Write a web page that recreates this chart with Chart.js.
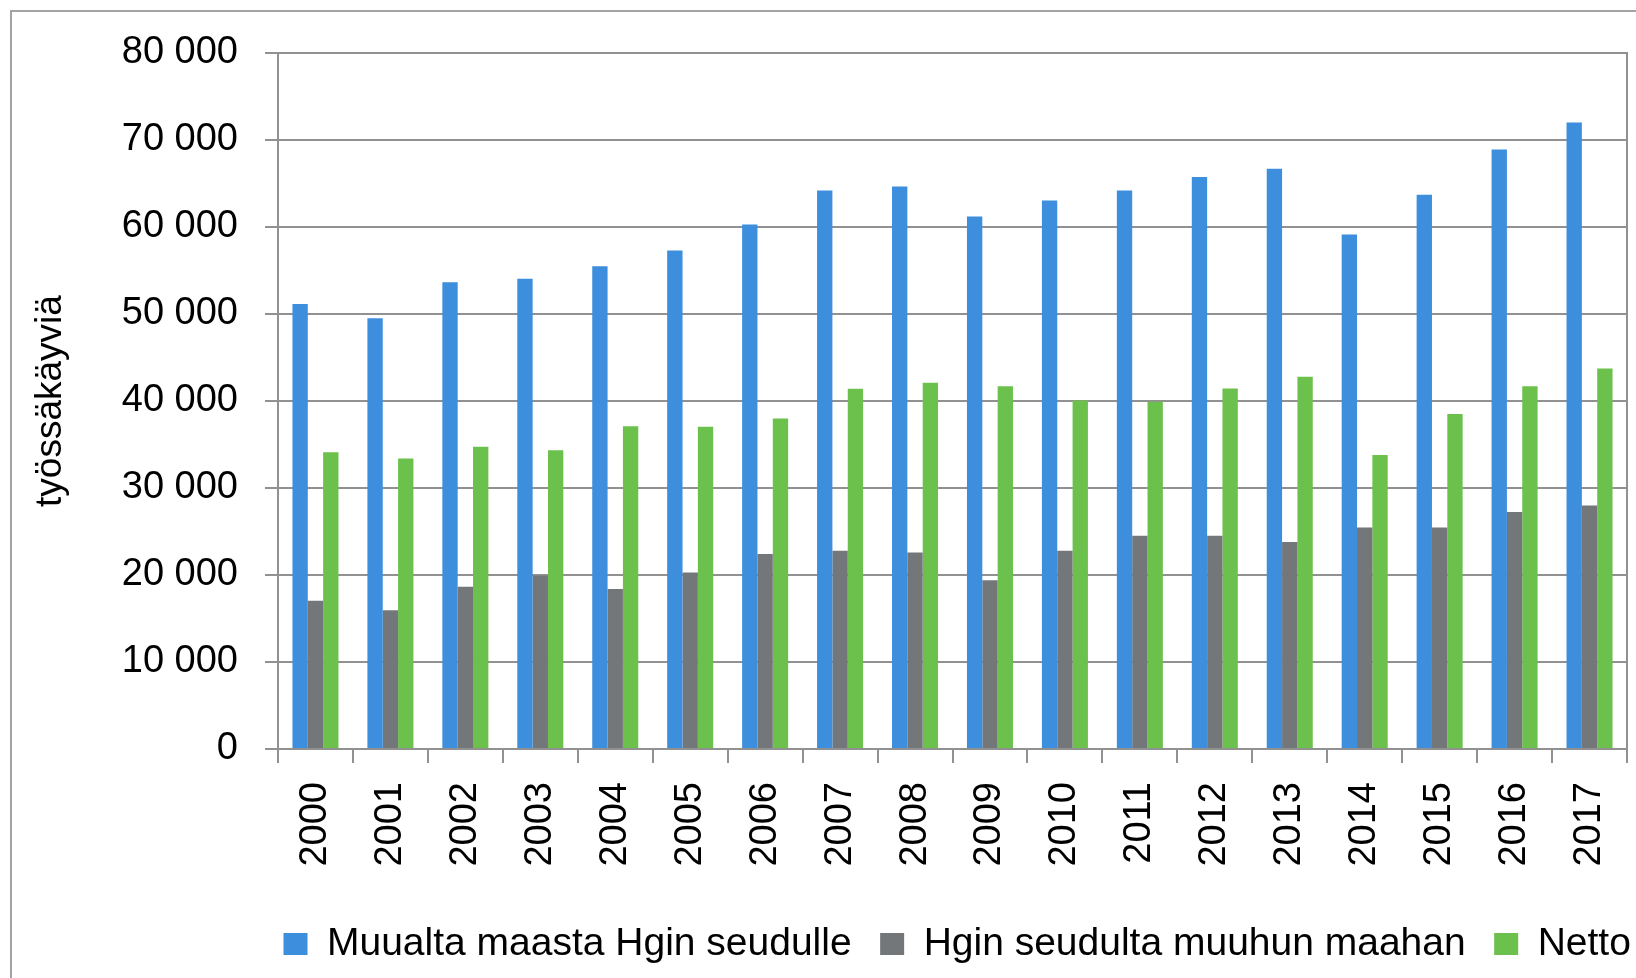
<!DOCTYPE html>
<html>
<head>
<meta charset="utf-8">
<title>Työssäkäynti</title>
<script src="https://cdn.jsdelivr.net/npm/chart.js@4.4.1/dist/chart.umd.min.js"></script>
<style>
  html, body { margin: 0; padding: 0; background: #fff; overflow: hidden; }
  #wrap { position: relative; width: 1636px; height: 978px; }
  #myChart { position: absolute; left: 0; top: 0; }
  #frame {
    position: absolute; left: 10px; top: 10px; width: 1800px; height: 1100px;
    border-left: 2px solid #a3a3a3; border-top: 2px solid #a3a3a3;
    pointer-events: none;
  }
</style>
</head>
<body onload="handleOnLoad()">
<div id="wrap">
  <canvas id="myChart" width="1636" height="978"></canvas>
  <div id="frame"></div>
</div>
<script>
const years = ['2000', '2001', '2002', '2003', '2004', '2005', '2006', '2007', '2008',
  '2009', '2010', '2011', '2012', '2013', '2014', '2015', '2016', '2017']

const seriesNames = ['Muualta maasta Hgin seudulle', 'Hgin seudulta muuhun maahan', 'Netto']

// työssäkäyviä per vuosi, luettu kuvasta
const toHelsinki = [51150, 49500, 53650, 54050, 55500, 57300, 60300, 64200, 64650,
  61200, 63050, 64200, 65750, 66700, 59150, 63700, 68900, 72000]
const fromHelsinki = [17050, 15950, 18650, 19950, 18400, 20300, 22400, 22800, 22600,
  19400, 22800, 24500, 24500, 23800, 25450, 25450, 27250, 28000]
const netto = [34100, 33400, 34750, 34350, 37100, 37050, 38000, 41400, 42100,
  41700, 40050, 39900, 41450, 42800, 33800, 38500, 41700, 43750]

const yTicks = [0, 10000, 20000, 30000, 40000, 50000, 60000, 70000, 80000]

const axisColor = '#919191'
const sans = "'Liberation Sans', Arial, sans-serif"

function formatThousands(v) {
  return String(v).replace(/\B(?=(\d{3})+(?!\d))/g, ' ')
}

// legend starts where the original one does, not centred
const legendStart = {
  id: 'legendStart',
  afterUpdate(chart) {
    const lg = chart.legend
    const dx = 283.5 - (lg.left + lg.options.labels.padding)
    lg.left += dx
    lg.right += dx
    lg.adjustHitBoxes()
  }
}

function handleOnLoad() {
  CreateChart()
}

function CreateChart() {
  const ctx = document.getElementById('myChart').getContext('2d')
  const myChart = new Chart(ctx, {
    type: 'bar',
    data: {
      labels: years,
      datasets: [
        { label: seriesNames[0], data: toHelsinki, backgroundColor: '#3d8edd' },
        { label: seriesNames[1], data: fromHelsinki, backgroundColor: '#74777a' },
        { label: seriesNames[2], data: netto, backgroundColor: '#6bc14b' }
      ]
    },
    plugins: [legendStart],
    options: {
      responsive: false,
      animation: false,
      devicePixelRatio: 1,
      layout: {
        padding: { left: 0, right: 9, top: 53, bottom: 4.5 }
      },
      datasets: {
        bar: { categoryPercentage: 0.614, barPercentage: 1.0, borderWidth: 0 }
      },
      plugins: {
        legend: {
          position: 'bottom',
          align: 'start',
          labels: {
            color: '#000',
            font: { family: sans, size: 39 },
            boxWidth: 24,
            boxHeight: 22,
            padding: 28.5
          }
        },
        tooltip: { enabled: false }
      },
      scales: {
        x: {
          grid: {
            drawOnChartArea: false,
            drawTicks: true,
            tickLength: 14,
            color: axisColor,
            lineWidth: 2
          },
          border: { color: axisColor, width: 2 },
          ticks: {
            color: '#000',
            font: { family: sans, size: 38 },
            minRotation: 90,
            maxRotation: 90,
            padding: 19,
            autoSkip: false
          },
          afterFit(scale) {
            scale.height = 147
            scale.paddingLeft = 0
            scale.paddingRight = 0
          }
        },
        y: {
          min: 0,
          max: 80000,
          afterBuildTicks(scale) {
            scale.ticks = yTicks.map(v => ({ value: v }))
          },
          grid: {
            color: axisColor,
            lineWidth: 2,
            tickLength: 13
          },
          border: { color: axisColor, width: 2 },
          ticks: {
            color: '#000',
            font: { family: sans, size: 38 },
            padding: 27,
            callback: v => formatThousands(v)
          },
          title: {
            display: true,
            text: 'työssäkäyviä',
            color: '#000',
            font: { family: sans, size: 37 },
            padding: { top: 29, bottom: 0 }
          },
          afterFit(scale) { scale.width = 278 }
        },
        y2: {
          position: 'right',
          display: true,
          grid: { display: false, drawTicks: false },
          border: { display: true, color: axisColor, width: 2 },
          ticks: { display: false },
          afterFit(scale) { scale.width = 0 }
        }
      }
    }
  })
}
</script>
</body>
</html>
